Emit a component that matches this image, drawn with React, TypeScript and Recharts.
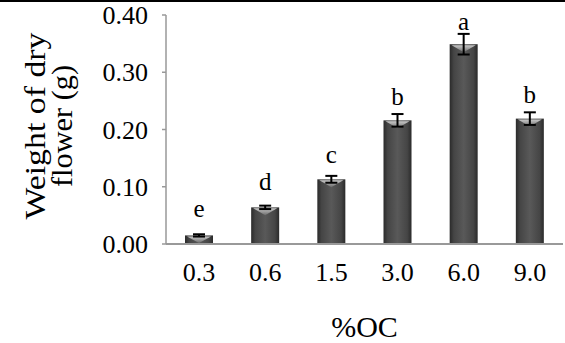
import React from 'react';
import { BarChart, Bar, XAxis, YAxis, ErrorBar, LabelList, Label } from 'recharts';

const CATEGORIES = ['0.3', '0.6', '1.5', '3.0', '6.0', '9.0'];
const WEIGHTS = [0.015, 0.064, 0.113, 0.216, 0.349, 0.219];
const ERRORS = [0.002, 0.003, 0.006, 0.011, 0.018, 0.011];
const LETTERS = ['e', 'd', 'c', 'b', 'a', 'b'];
const Y_TICKS = [0, 0.1, 0.2, 0.3, 0.4];

const data = CATEGORIES.map((oc, i) => ({
  oc,
  weight: WEIGHTS[i],
  err: ERRORS[i],
  letter: LETTERS[i],
}));

const FONT = 'Liberation Serif';
const TOP = 15;
const PLOT_H = 229;
const Y_MAX = 0.4;

const ShadedBar = (props: any) => {
  const { x, y, width, height } = props;
  if (!height || height <= 0) return null;
  const bevel = Math.min(8, height - 1);
  return (
    <g>
      <rect x={x} y={y} width={width} height={height} fill="url(#barFill)" />
      <polygon
        points={`${x + 2},${y + 1} ${x + width - 2},${y + 1} ${x + width / 2},${y + bevel}`}
        fill="url(#bevelFill)"
      />
    </g>
  );
};

// letters sit a little closer to the error cap on the taller bars
const LetterLabel = (props: any) => {
  const { x, y, width, index } = props;
  const errTop = y - (ERRORS[index] / Y_MAX) * PLOT_H;
  const gap = 4 + 0.065 * (errTop - TOP - 19);
  return (
    <text
      x={x + width / 2}
      y={errTop - gap}
      textAnchor="middle"
      style={{ fontFamily: FONT, fontSize: 25 }}
      fill="#000"
    >
      {LETTERS[index]}
    </text>
  );
};

const YTitle = () => (
  <g style={{ fontFamily: FONT, fontSize: 29 }}>
    <text
      transform="translate(45,126) rotate(-90)"
      textAnchor="middle"
      fill="#000"
      textLength={187}
      lengthAdjust="spacingAndGlyphs"
    >
      Weight of dry
    </text>
    <text
      transform="translate(72,126) rotate(-90)"
      textAnchor="middle"
      fill="#000"
      textLength={122}
      lengthAdjust="spacingAndGlyphs"
    >
      flower (g)
    </text>
  </g>
);

export default function App() {
  return (
    <div style={{ position: 'absolute', left: 0, top: 0, width: 565, height: 343, background: '#fff', fontFamily: FONT }}>
      <div style={{ position: 'absolute', left: 0, top: 0, width: 565, height: 2, background: '#000' }} />
      <BarChart
        width={565}
        height={343}
        data={data}
        margin={{ top: TOP, right: 2, bottom: 0, left: 0 }}
      >
        <defs>
          <linearGradient id="barFill" x1="0" y1="0" x2="1" y2="0">
            <stop offset="0%" stopColor="#2a2a2a" />
            <stop offset="15%" stopColor="#454545" />
            <stop offset="50%" stopColor="#595959" />
            <stop offset="85%" stopColor="#454545" />
            <stop offset="100%" stopColor="#2a2a2a" />
          </linearGradient>
          <linearGradient id="bevelFill" x1="0" y1="0" x2="0" y2="1">
            <stop offset="0%" stopColor="#c8c8c8" />
            <stop offset="100%" stopColor="#6a6a6a" />
          </linearGradient>
        </defs>
        <XAxis
          dataKey="oc"
          height={99}
          tickLine={false}
          axisLine={{ stroke: '#999', strokeWidth: 2 }}
          tick={{ fill: '#000', fontFamily: FONT, fontSize: 26 }}
          tickMargin={13}
        >
          <Label
            value="%OC"
            position="insideBottom"
            offset={6}
            style={{ fill: '#000', fontFamily: FONT, fontSize: 30 }}
          />
        </XAxis>
        <YAxis
          domain={[0, Y_MAX]}
          ticks={Y_TICKS}
          width={166}
          tickFormatter={(v: number) => v.toFixed(2)}
          axisLine={{ stroke: '#999', strokeWidth: 1.5 }}
          tickLine={{ stroke: '#999', strokeWidth: 1.5 }}
          tickSize={4}
          tickMargin={14}
          tick={{ fill: '#000', fontFamily: FONT, fontSize: 26 }}
        >
          <Label content={<YTitle />} />
        </YAxis>
        <Bar dataKey="weight" barSize={28} shape={<ShadedBar />} isAnimationActive={false}>
          <ErrorBar dataKey="err" width={6} stroke="#000" strokeWidth={2} />
          <LabelList dataKey="letter" content={<LetterLabel />} />
        </Bar>
      </BarChart>
    </div>
  );
}
